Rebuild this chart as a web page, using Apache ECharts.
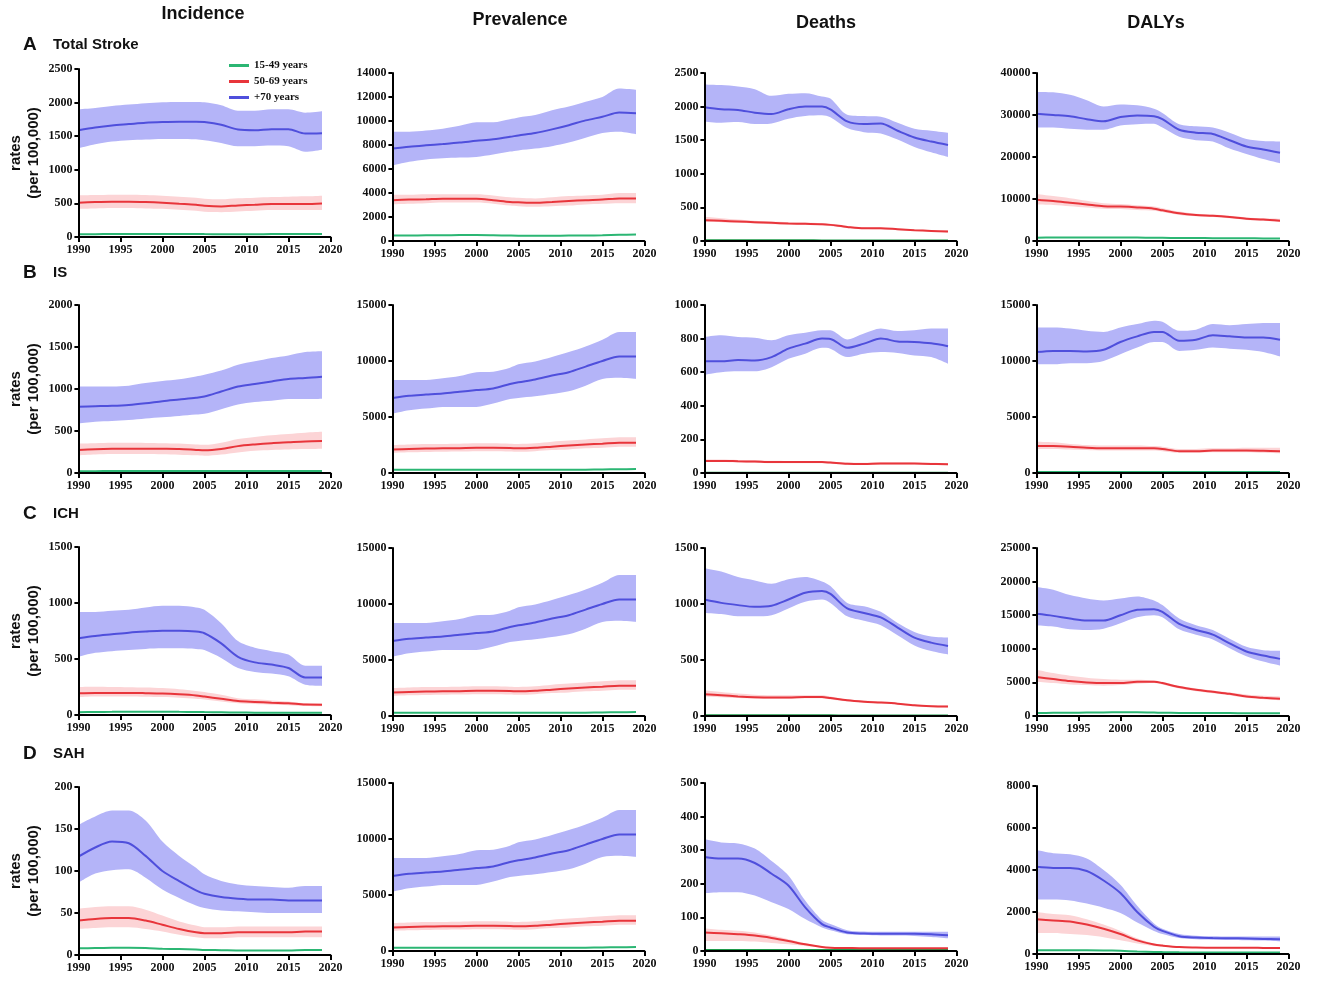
<!DOCTYPE html>
<html><head><meta charset="utf-8">
<script src="https://cdn.jsdelivr.net/npm/echarts/dist/echarts.min.js"></script>
<style>html,body{margin:0;padding:0;background:#fff}#c{width:1325px;height:985px}</style>
</head><body><div id="c"></div>
<script>
const YEARS = [1990,1992,1994,1996,1998,2000,2002,2004,2005,2007,2009,2011,2013,2015,2017,2019];
const COLUMN_TITLES = ['Incidence','Prevalence','Deaths','DALYs'];
const ROW_LETTERS = ['A','B','C','D'];
const ROW_NAMES = ['Total Stroke','IS','ICH','SAH'];
const SERIES_NAMES = ['15-49 years','50-69 years','+70 years'];
const Y_MAX  = [[2500,14000,2500,40000],[2000,15000,1000,15000],[1500,15000,1500,25000],[200,15000,500,8000]];
const Y_STEP = [[500,2000,500,10000],[500,5000,200,5000],[500,5000,500,5000],[50,5000,100,2000]];

// ---- A: Total Stroke ----
const incTotal_g   = [40,42,44,45,45,45,45,44,43,42,42,42,43,44,45,45];
const incTotal_r   = [510,520,525,525,520,510,495,480,465,455,470,480,490,490,490,500];
const incTotal_rLo = [420,425,430,430,425,420,405,390,375,370,380,390,400,400,400,400];
const incTotal_rHi = [620,625,630,630,625,615,600,585,570,560,575,585,595,600,605,615];
const incTotal_b   = [1590,1630,1660,1680,1700,1710,1715,1715,1710,1670,1600,1590,1605,1605,1540,1545];
const incTotal_bLo = [1320,1380,1420,1440,1450,1460,1460,1455,1440,1400,1350,1350,1360,1350,1270,1300];
const incTotal_bHi = [1900,1920,1950,1970,1990,2005,2010,2010,2005,1960,1880,1880,1900,1900,1850,1870];

const prevTotal_g   = [450,460,470,480,490,500,480,450,440,440,440,450,460,480,520,540];
const prevTotal_r   = [3400,3450,3480,3520,3520,3520,3400,3250,3220,3180,3250,3330,3400,3450,3550,3550];
const prevTotal_rLo = [3050,3100,3150,3200,3200,3200,3100,2950,2900,2850,2900,2950,3050,3100,3150,3150];
const prevTotal_rHi = [3850,3850,3900,3900,3900,3900,3800,3650,3600,3550,3650,3750,3800,3850,4000,4000];
const prevTotal_b   = [7700,7850,7970,8080,8200,8350,8480,8680,8800,9000,9300,9650,10050,10350,10700,10650];
const prevTotal_bLo = [6300,6600,6800,6900,6950,7000,7200,7450,7550,7700,7900,8200,8600,9000,9100,8900];
const prevTotal_bHi = [9100,9100,9200,9350,9600,9900,9900,10150,10300,10500,10900,11200,11600,12000,12700,12600];

const deathTotal_g   = [10,10,10,10,10,10,10,9,9,9,8,8,8,8,8,8];
const deathTotal_r   = [310,300,290,280,270,260,255,250,240,210,190,190,175,160,150,140];
const deathTotal_rLo = [290,280,270,260,250,245,240,235,225,195,180,175,160,150,140,125];
const deathTotal_rHi = [360,340,320,300,290,280,275,265,255,225,205,200,185,170,160,155];
const deathTotal_b   = [1990,1960,1950,1910,1890,1960,2000,2000,1960,1780,1740,1750,1640,1540,1480,1430];
const deathTotal_bLo = [1780,1760,1770,1740,1750,1820,1860,1870,1840,1680,1620,1600,1510,1400,1320,1250];
const deathTotal_bHi = [2330,2320,2300,2260,2160,2190,2200,2150,2120,1880,1860,1850,1760,1670,1640,1610];

const dalyTotal_g   = [800,820,840,850,850,850,820,780,760,720,700,680,660,640,620,600];
const dalyTotal_r   = [9800,9500,9100,8700,8300,8200,8000,7700,7300,6600,6200,6000,5700,5300,5100,4800];
const dalyTotal_rLo = [8700,8600,8300,8000,7700,7600,7400,7200,6900,6200,5900,5700,5400,5000,4800,4500];
const dalyTotal_rHi = [11200,10700,10200,9600,9000,8800,8500,8200,7800,7000,6500,6300,6000,5600,5400,5300];
const dalyTotal_b   = [30300,30000,29700,29000,28500,29500,29900,29700,29000,26500,25800,25500,24000,22500,21800,21000];
const dalyTotal_bLo = [27000,27000,26700,26500,26500,27500,27800,27900,27000,24800,24000,23700,22000,20700,19500,18500];
const dalyTotal_bHi = [35500,35400,34800,33500,32000,32500,32300,31500,30500,27800,27300,27000,25800,24300,23800,23700];

// ---- B: IS ----
const incIS_g   = [22,22,23,23,23,23,23,23,23,23,23,24,24,24,24,24];
const incIS_r   = [275,283,288,290,290,288,285,275,270,285,320,340,355,365,375,380];
const incIS_rLo = [210,220,225,225,225,222,218,210,205,220,245,265,275,280,285,290];
const incIS_rHi = [350,355,360,360,358,355,350,340,335,360,405,430,450,465,480,490];
const incIS_b   = [790,795,800,810,830,855,875,895,910,970,1030,1060,1090,1120,1130,1145];
const incIS_bLo = [590,610,620,630,650,665,680,695,705,760,815,845,860,880,880,885];
const incIS_bHi = [1030,1030,1030,1040,1070,1095,1115,1150,1170,1220,1290,1330,1370,1400,1440,1450];

const prevIS_g   = [280,290,300,300,300,300,300,290,280,280,280,290,300,320,340,350];
const prevIS_r   = [2100,2150,2180,2200,2220,2250,2250,2230,2200,2250,2350,2450,2550,2620,2700,2700];
const prevIS_rLo = [1800,1850,1880,1900,1920,1950,1950,1930,1900,1950,2050,2100,2200,2250,2350,2350];
const prevIS_rHi = [2500,2550,2580,2600,2620,2650,2650,2620,2600,2650,2800,2900,3000,3100,3200,3200];
const prevIS_b   = [6700,6900,7000,7100,7250,7400,7550,7950,8100,8350,8700,9000,9500,10000,10400,10400];
const prevIS_bLo = [5300,5600,5750,5900,5900,5900,6200,6600,6700,6850,7050,7300,7800,8400,8500,8400];
const prevIS_bHi = [8300,8300,8300,8450,8650,9000,9050,9400,9700,9950,10350,10800,11300,11900,12600,12600];

const deathIS_g   = [2,2,2,2,2,2,2,2,2,2,2,2,2,2,2,2];
const deathIS_r   = [72,72,70,68,65,65,65,65,62,55,54,57,57,56,54,52];
const deathIS_rLo = [65,65,63,61,58,58,58,58,55,49,48,51,51,50,48,46];
const deathIS_rHi = [80,80,78,76,73,72,72,72,69,62,61,64,64,63,61,59];
const deathIS_b   = [665,665,672,670,690,740,770,800,798,745,770,800,783,780,772,755];
const deathIS_bLo = [585,600,605,605,630,680,710,745,740,690,710,720,715,700,690,650];
const deathIS_bHi = [810,820,810,805,790,820,835,850,850,795,830,860,845,850,860,860];

const dalyIS_g   = [100,100,100,100,100,100,100,95,95,90,90,90,90,90,90,90];
const dalyIS_r   = [2400,2400,2350,2250,2200,2200,2200,2200,2150,1950,1950,2000,2000,2000,1980,1950];
const dalyIS_rLo = [2150,2150,2100,2050,2000,2000,2000,2000,1950,1800,1800,1850,1850,1850,1800,1750];
const dalyIS_rHi = [2800,2750,2600,2500,2450,2450,2450,2400,2350,2150,2150,2200,2200,2250,2250,2250];
const dalyIS_b   = [10800,10900,10900,10850,11000,11700,12200,12600,12600,11800,11900,12300,12200,12100,12100,11900];
const dalyIS_bLo = [9700,9700,9800,9800,10000,10600,11200,11700,11700,10900,11000,11200,11100,11000,10800,10400];
const dalyIS_bHi = [13000,13000,12900,12700,12600,13000,13300,13600,13500,12700,12800,13300,13200,13300,13400,13400];

// ---- C: ICH ----
const incICH_g   = [25,27,28,29,29,29,28,27,26,24,22,21,20,20,19,19];
const incICH_r   = [195,197,197,197,195,192,185,175,165,145,125,117,110,105,93,92];
const incICH_rLo = [160,165,165,165,163,160,155,145,138,120,105,98,92,88,80,78];
const incICH_rHi = [250,252,250,248,245,240,230,215,205,180,150,140,130,120,105,103];
const incICH_b   = [685,705,720,735,745,752,752,745,730,640,520,470,450,420,335,335];
const incICH_bLo = [520,555,570,580,590,595,595,590,580,510,420,385,370,345,270,260];
const incICH_bHi = [920,920,930,940,960,975,975,960,940,820,660,600,570,540,440,440];

const prevICH_g   = [280,290,300,300,300,300,300,290,280,280,280,290,300,320,340,350];
const prevICH_r   = [2100,2150,2180,2200,2220,2250,2250,2230,2200,2250,2350,2450,2550,2620,2700,2700];
const prevICH_rLo = [1800,1850,1880,1900,1920,1950,1950,1930,1900,1950,2050,2100,2200,2250,2350,2350];
const prevICH_rHi = [2500,2550,2580,2600,2620,2650,2650,2620,2600,2650,2800,2900,3000,3100,3200,3200];
const prevICH_b   = [6700,6900,7000,7100,7250,7400,7550,7950,8100,8350,8700,9000,9500,10000,10400,10400];
const prevICH_bLo = [5300,5600,5750,5900,5900,5900,6200,6600,6700,6850,7050,7300,7800,8400,8500,8400];
const prevICH_bHi = [8300,8300,8300,8450,8650,9000,9050,9400,9700,9950,10350,10800,11300,11900,12600,12600];

const deathICH_g   = [6,6,6,6,6,6,6,6,6,5,5,5,5,5,5,5];
const deathICH_r   = [195,185,175,168,165,165,170,170,160,140,128,120,110,95,88,85];
const deathICH_rLo = [175,168,160,155,152,152,158,158,148,130,120,112,102,88,80,76];
const deathICH_rHi = [230,215,200,190,185,185,185,185,175,150,138,128,117,102,95,92];
const deathICH_b   = [1040,1010,990,975,985,1040,1100,1115,1090,960,920,880,790,700,655,625];
const deathICH_bLo = [920,910,890,890,900,960,1020,1040,1010,890,850,810,720,630,580,550];
const deathICH_bHi = [1320,1290,1240,1210,1180,1220,1240,1200,1160,1010,980,930,830,750,710,700];

const dalyICH_g   = [450,470,490,510,530,550,560,520,480,460,450,440,430,420,410,400];
const dalyICH_r   = [5800,5500,5200,5000,4900,4900,5100,5100,4900,4300,3900,3600,3300,2900,2700,2550];
const dalyICH_rLo = [5100,4900,4700,4600,4500,4600,4800,4900,4700,4100,3700,3400,3100,2700,2500,2350];
const dalyICH_rHi = [6900,6400,6000,5700,5500,5400,5400,5300,5100,4500,4100,3800,3500,3200,3000,2900];
const dalyICH_b   = [15200,14900,14500,14200,14200,15000,15800,15900,15500,13700,12800,12100,10800,9600,9000,8500];
const dalyICH_bLo = [13500,13300,12900,12800,13000,13800,14700,15000,14700,12900,12100,11400,10100,8900,8100,7500];
const dalyICH_bHi = [19200,18800,18000,17500,17200,17500,17800,17200,16500,14500,13500,12800,11500,10300,9800,9700];

// ---- D: SAH ----
const incSAH_g   = [8,8.3,8.5,8.5,8.3,7.5,7,6.5,6,5.8,5.5,5.5,5.5,5.5,6,6];
const incSAH_r   = [41,43,44,44,41,36,31,27,26,26,27,27,27,27,28,28];
const incSAH_rLo = [31,32,33,33,31,28,24,21,20,20,21,21,21,21,21,21];
const incSAH_rHi = [55,57,58,58,54,47,40,35,33,33,34,34,34,34,34,34];
const incSAH_b   = [117,128,135,133,118,100,88,77,73,69,67,66,66,65,65,65];
const incSAH_bLo = [86,97,101,102,92,78,68,59,56,53,52,51,50,50,50,50];
const incSAH_bHi = [155,165,172,172,160,135,118,104,96,88,84,82,81,80,82,82];

const prevSAH_g   = [280,290,300,300,300,300,300,290,280,280,280,290,300,320,340,350];
const prevSAH_r   = [2100,2150,2180,2200,2220,2250,2250,2230,2200,2250,2350,2450,2550,2620,2700,2700];
const prevSAH_rLo = [1800,1850,1880,1900,1920,1950,1950,1930,1900,1950,2050,2100,2200,2250,2350,2350];
const prevSAH_rHi = [2500,2550,2580,2600,2620,2650,2650,2620,2600,2650,2800,2900,3000,3100,3200,3200];
const prevSAH_b   = [6700,6900,7000,7100,7250,7400,7550,7950,8100,8350,8700,9000,9500,10000,10400,10400];
const prevSAH_bLo = [5300,5600,5750,5900,5900,5900,6200,6600,6700,6850,7050,7300,7800,8400,8500,8400];
const prevSAH_bHi = [8300,8300,8300,8450,8650,9000,9050,9400,9700,9950,10350,10800,11300,11900,12600,12600];

const deathSAH_g   = [3,3,3,3,3,3,3,3,3,3,3,3,3,3,3,3];
const deathSAH_r   = [55,53,50,46,39,30,20,12,10,9,8,8,8,8,8,8];
const deathSAH_rLo = [30,30,30,28,24,20,15,10,8,7,7,7,7,7,7,7];
const deathSAH_rHi = [68,63,60,55,46,35,23,14,12,10,9,9,9,9,9,9];
const deathSAH_b   = [280,275,275,262,230,195,130,80,70,55,52,51,51,51,50,47];
const deathSAH_bLo = [172,175,175,165,145,125,95,70,62,50,48,46,46,45,42,38];
const deathSAH_bHi = [333,323,320,305,268,225,150,92,80,62,58,57,57,57,57,57];

const dalySAH_g   = [180,180,180,180,170,150,120,100,90,80,75,70,70,70,70,70];
const dalySAH_r   = [1650,1600,1550,1400,1200,950,650,450,400,330,310,300,300,300,290,280];
const dalySAH_rLo = [1000,1000,950,900,800,650,500,380,350,300,290,280,280,280,270,260];
const dalySAH_rHi = [2000,1900,1850,1650,1400,1100,750,500,440,360,330,320,320,320,310,300];
const dalySAH_b   = [4150,4100,4100,3950,3500,2900,2000,1300,1100,850,780,760,750,740,720,700];
const dalySAH_bLo = [2600,2600,2550,2400,2200,1950,1500,1100,950,760,700,680,670,660,640,600];
const dalySAH_bHi = [4950,4800,4750,4550,4000,3300,2300,1450,1200,950,870,840,830,830,830,830];

function P(g,r,rLo,rHi,b,bLo,bHi){return {g,r,rLo,rHi,b,bLo,bHi};}
const PANELS = [
  [P(incTotal_g,incTotal_r,incTotal_rLo,incTotal_rHi,incTotal_b,incTotal_bLo,incTotal_bHi),
   P(prevTotal_g,prevTotal_r,prevTotal_rLo,prevTotal_rHi,prevTotal_b,prevTotal_bLo,prevTotal_bHi),
   P(deathTotal_g,deathTotal_r,deathTotal_rLo,deathTotal_rHi,deathTotal_b,deathTotal_bLo,deathTotal_bHi),
   P(dalyTotal_g,dalyTotal_r,dalyTotal_rLo,dalyTotal_rHi,dalyTotal_b,dalyTotal_bLo,dalyTotal_bHi)],
  [P(incIS_g,incIS_r,incIS_rLo,incIS_rHi,incIS_b,incIS_bLo,incIS_bHi),
   P(prevIS_g,prevIS_r,prevIS_rLo,prevIS_rHi,prevIS_b,prevIS_bLo,prevIS_bHi),
   P(deathIS_g,deathIS_r,deathIS_rLo,deathIS_rHi,deathIS_b,deathIS_bLo,deathIS_bHi),
   P(dalyIS_g,dalyIS_r,dalyIS_rLo,dalyIS_rHi,dalyIS_b,dalyIS_bLo,dalyIS_bHi)],
  [P(incICH_g,incICH_r,incICH_rLo,incICH_rHi,incICH_b,incICH_bLo,incICH_bHi),
   P(prevICH_g,prevICH_r,prevICH_rLo,prevICH_rHi,prevICH_b,prevICH_bLo,prevICH_bHi),
   P(deathICH_g,deathICH_r,deathICH_rLo,deathICH_rHi,deathICH_b,deathICH_bLo,deathICH_bHi),
   P(dalyICH_g,dalyICH_r,dalyICH_rLo,dalyICH_rHi,dalyICH_b,dalyICH_bLo,dalyICH_bHi)],
  [P(incSAH_g,incSAH_r,incSAH_rLo,incSAH_rHi,incSAH_b,incSAH_bLo,incSAH_bHi),
   P(prevSAH_g,prevSAH_r,prevSAH_rLo,prevSAH_rHi,prevSAH_b,prevSAH_bLo,prevSAH_bHi),
   P(deathSAH_g,deathSAH_r,deathSAH_rLo,deathSAH_rHi,deathSAH_b,deathSAH_bLo,deathSAH_bHi),
   P(dalySAH_g,dalySAH_r,dalySAH_rLo,dalySAH_rHi,dalySAH_b,dalySAH_bLo,dalySAH_bHi)]
];

// ---- layout & style ----
// fractional offset puts the 2019 end of every band on a whole pixel (no seam at the band ends)
const COL_LEFT = [78.4, 392.4, 704.4, 1036.4];
const ROW_TOP = [[69,73,73,73],[305,305,305,305],[547,548,548,548],[787,783,783,786]];
const PW = 252, PH = 168;
const C_GREEN = '#2bb673', C_GREEN_DARK = '#1f9a4a', C_RED = '#e8353b', C_BLUE = '#4f4fdc';
const C_RED_BAND = '#fcd4d6', C_BLUE_BAND = '#b4b4f8';
const TICK_FONT = {fontFamily:'Liberation Serif', fontWeight:'bold', fontSize:12, color:'#111'};

const grids=[], xAxes=[], yAxes=[], series=[];
const pts = arr => YEARS.map((y,i)=>[y, arr[i]]);

for (let r=0;r<4;r++) for (let c=0;c<4;c++){
  const k = r*4+c, p = PANELS[r][c];
  grids.push({left:COL_LEFT[c], top:ROW_TOP[r][c], width:PW, height:PH});
  xAxes.push({type:'value', gridIndex:k, min:1990, max:2020, interval:5, z:10,
    axisLine:{onZero:false, lineStyle:{color:'#000', width:2}},
    axisTick:{length:5, lineStyle:{color:'#000', width:2}},
    splitLine:{show:false},
    axisLabel:Object.assign({margin:7, formatter:v=>String(v)}, TICK_FONT)});
  yAxes.push({type:'value', gridIndex:k, min:0, max:Y_MAX[r][c], interval:Y_STEP[r][c], z:10,
    axisLine:{show:true, lineStyle:{color:'#000', width:2}},
    axisTick:{show:true, length:4, lineStyle:{color:'#000', width:2}},
    splitLine:{show:false},
    axisLabel:Object.assign({margin:6, formatter:v=>String(v)}, TICK_FONT)});
  // band = fill up to upper bound, then mask below lower bound with white
  const fill = (arr,col,z) => series.push({type:'line', xAxisIndex:k, yAxisIndex:k, data:pts(arr),
    showSymbol:false, smooth:0.3, lineStyle:{width:0, opacity:0}, areaStyle:{color:col, opacity:1, origin:'start'}, silent:true, z});
  fill(p.bHi, C_BLUE_BAND, 1);
  fill(p.bLo, '#ffffff', 2);
  fill(p.rHi, C_RED_BAND, 3);
  fill(p.rLo, '#ffffff', 4);
  const line = (arr,col,name) => series.push({type:'line', name, xAxisIndex:k, yAxisIndex:k, data:pts(arr),
    showSymbol:false, smooth:0.3, lineStyle:{color:col, width:2}, itemStyle:{color:col}, silent:true, z:5});
  line(p.g, c===2 ? C_GREEN_DARK : C_GREEN, SERIES_NAMES[0]);
  line(p.r, C_RED, SERIES_NAMES[1]);
  line(p.b, C_BLUE, SERIES_NAMES[2]);
}

const graphics = [];
const TITLE_X = [203, 520, 826, 1156], TITLE_Y = [14, 20, 23, 23];
COLUMN_TITLES.forEach((t,i)=>graphics.push({type:'text', x:TITLE_X[i], y:TITLE_Y[i],
  style:{text:t, font:'bold 18px "Liberation Sans", Arial', fill:'#111', align:'center', verticalAlign:'middle'}}));
const ROW_LABEL_Y = [45, 273, 514, 754];
ROW_LETTERS.forEach((t,i)=>{
  graphics.push({type:'text', x:23, y:ROW_LABEL_Y[i], style:{text:t, font:'900 19px "Liberation Sans", Arial', fill:'#111', align:'left', verticalAlign:'middle'}});
  graphics.push({type:'text', x:53, y:ROW_LABEL_Y[i], style:{text:ROW_NAMES[i], font:'bold 15px "Liberation Sans", Arial', fill:'#111', align:'left', verticalAlign:'middle'}});
  graphics.push({type:'text', x:25, y:ROW_TOP[i][0]+PH/2, rotation:Math.PI/2,
    style:{text:'rates\n(per 100,000)', font:'bold 15px "Liberation Sans", Arial', lineHeight:18, fill:'#111', align:'center', verticalAlign:'middle'}});
});

const chart = echarts.init(document.getElementById('c'), null, {renderer:'canvas'});
chart.setOption({
  animation:false,
  backgroundColor:'#fff',
  grid:grids, xAxis:xAxes, yAxis:yAxes, series,
  legend:{data:SERIES_NAMES, orient:'vertical', left:224, top:55, icon:'rect', itemWidth:20, itemHeight:3, itemGap:5,
    textStyle:{fontFamily:'Liberation Serif', fontWeight:'bold', fontSize:11, color:'#111'}},
  graphic:graphics
});
</script>
</body></html>
